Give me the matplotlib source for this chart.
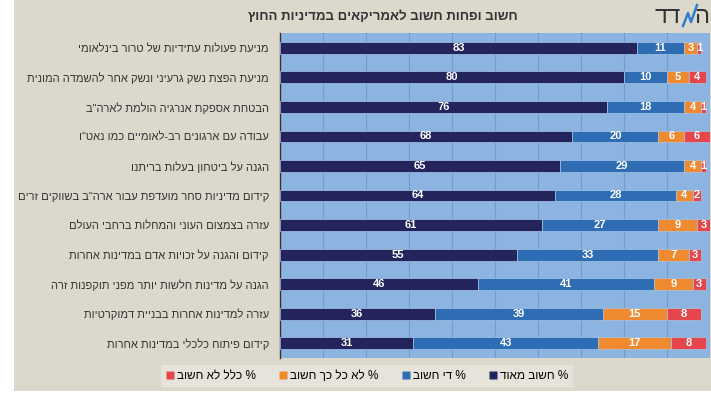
import matplotlib
matplotlib.use("Agg")
import matplotlib.pyplot as plt
from matplotlib.patches import Rectangle
from matplotlib.lines import Line2D
import numpy as np

plt.rcParams['font.family'] = ['Liberation Sans', 'DejaVu Sans']

def heb(s):
    return s[::-1]

categories = [
    "מניעת פעולות עתידיות של טרור בינלאומי",
    "מניעת הפצת נשק גרעיני ונשק אחר להשמדה המונית",
    "הבטחת אספקת אנרגיה הולמת לארה\"ב",
    "עבודה עם ארגונים רב-לאומיים כמו נאט\"ו",
    "הגנה על ביטחון בעלות בריתנו",
    "קידום מדיניות סחר מועדפת עבור ארה\"ב בשווקים זרים",
    "עזרה בצמצום העוני והמחלות ברחבי העולם",
    "קידום והגנה על זכויות אדם במדינות אחרות",
    "הגנה על מדינות חלשות יותר מפני תוקפנות זרה",
    "עזרה למדינות אחרות בבניית דמוקרטיות",
    "קידום פיתוח כלכלי במדינות אחרות",
]
very_important = [83, 80, 76, 68, 65, 64, 61, 55, 46, 36, 31]
somewhat_important = [11, 10, 18, 20, 29, 28, 27, 33, 41, 39, 43]
not_so_important = [3, 5, 4, 6, 4, 4, 9, 7, 9, 15, 17]
not_at_all = [1, 4, 1, 6, 1, 2, 3, 3, 3, 8, 8]

series_names = ["% חשוב מאוד", "% די חשוב", "% לא כל כך חשוב", "% כלל לא חשוב"]
title = "חשוב ופחות חשוב לאמריקאים במדיניות החוץ"

colors = ["#23245b", "#2e6cb3", "#f08a30", "#e4464c"]
plot_bg = "#8cb4e1"
panel_bg = "#dcd8cc"

fig = plt.figure(figsize=(7.11, 4.0), dpi=100)
fig.patch.set_facecolor("white")
fig.patches.append(Rectangle((14/711, 1-391/400), 1-14/711, 391/400,
                             transform=fig.transFigure, facecolor=panel_bg,
                             edgecolor="none", zorder=-10))

ax = fig.add_axes([280/711, 1-358/400, 430/711, 325/400])
ax.set_facecolor(plot_bg)

y = np.arange(len(categories))
data = [very_important, somewhat_important, not_so_important, not_at_all]
left = np.zeros(len(categories))
for vals, c, name in zip(data, colors, series_names):
    vals = np.array(vals, dtype=float)
    ax.barh(y, vals, left=left, height=0.4, color=c, edgecolor="#a9c6e8",
            linewidth=0.5, zorder=3)
    for yi, (l, v) in enumerate(zip(left, vals)):
        ax.text(l + v / 2, yi, f"{int(v)}", ha="center", va="center",
                color="white", fontsize=8, fontweight="bold", zorder=4)
    left += vals

ax.set_xlim(0, 100)
ax.set_ylim(len(categories) - 0.5, -0.5)
ax.set_xticks(np.arange(0, 101, 10))
ax.xaxis.grid(True, color="#6f9bcd", linewidth=0.8, zorder=0)
ax.tick_params(axis="x", length=0, labelbottom=False)
ax.set_yticks(y)
ax.set_yticklabels([heb(c) for c in categories], fontsize=8, color="#333333")
ax.tick_params(axis="y", length=0, pad=8)
for s in ["top", "right", "bottom"]:
    ax.spines[s].set_visible(False)
ax.spines["left"].set_color("#333333")
ax.spines["left"].set_linewidth(1.0)

# title
fig.text(383/711, 1-17/400, heb(title), ha="center", va="center",
         fontsize=9.5, fontweight="bold", color="#333333")

# logo
fig.text(668/711, 1-17/400, heb("דד"), ha="center", va="center",
         fontsize=17, color="#333333")
fig.text(702/711, 1-17/400, heb("ה"), ha="center", va="center",
         fontsize=17, color="#333333")
fig.add_artist(Line2D([683/711, 688/711, 691/711, 697/711],
                      [1-26/400, 1-13/400, 1-22/400, 1-5/400],
                      transform=fig.transFigure, color="#2f7fd0", linewidth=1.8))

# legend
order = [3, 2, 1, 0]
labels = [heb(series_names[i]) for i in order]
proxy = [Line2D([0], [0], marker="s", linestyle="none", markersize=5.5,
                markerfacecolor=colors[i], markeredgecolor="none") for i in order]
leg = fig.legend(proxy, labels, loc="center", bbox_to_anchor=(367/711, 1-376/400),
                 ncol=4, frameon=True, fontsize=8.5, handletextpad=0.2,
                 columnspacing=2.0, handlelength=0.7, borderpad=0.45)
leg.get_frame().set_facecolor("#e9e6de")
leg.get_frame().set_edgecolor("none")
leg.get_frame().set_boxstyle("square", pad=0.0)

fig.savefig("out.png", dpi=100, facecolor=fig.get_facecolor())
